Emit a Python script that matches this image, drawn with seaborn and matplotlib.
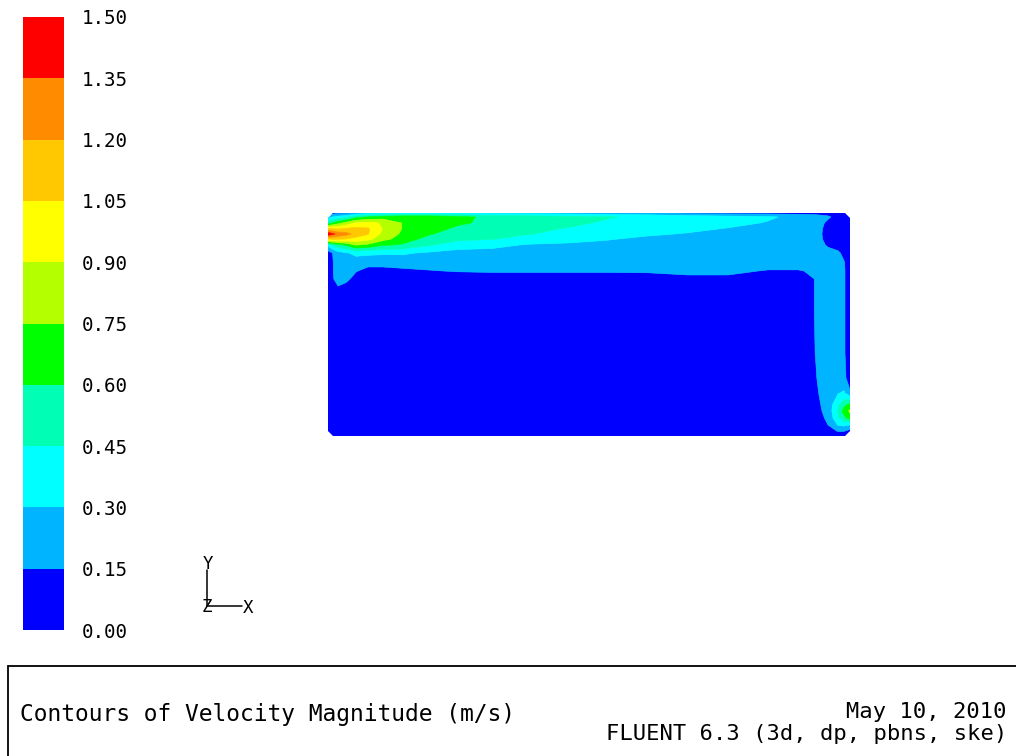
import numpy as np
import matplotlib
matplotlib.use("Agg")
import matplotlib.pyplot as plt
from matplotlib.colors import ListedColormap
from matplotlib.patches import Polygon, Rectangle
from matplotlib.lines import Line2D
import seaborn as sns

# Contour band edges (m/s) and their fill colours, low to high
levels = [0.00, 0.15, 0.30, 0.45, 0.60, 0.75, 0.90, 1.05, 1.20, 1.35, 1.50]
level_labels = [f"{v:.2f}" for v in levels]
band_colors = ["#0000ff", "#00b4ff", "#00ffff", "#00ffb4", "#00ff00",
               "#b4ff00", "#ffff00", "#ffc800", "#ff8c00", "#ff0000"]

# Section through the room (metres)
room_length = 5.22
room_height = 2.23

# Sampling stations along the room and depths below the ceiling
x_stations = [0.00, 0.04, 0.10, 0.18, 0.28, 0.40, 0.55, 0.75, 1.00, 1.30, 1.65, 2.00,
              2.40, 2.80, 3.20, 3.60, 4.00, 4.40, 4.70, 4.88, 5.00, 5.10, 5.16, 5.22]
depth_below_ceiling = [0.00, 0.04, 0.10, 0.16, 0.21, 0.26, 0.32, 0.40, 0.50, 0.58, 0.66,
                       0.76, 1.00, 1.40, 1.65, 1.80, 1.92, 1.98, 2.05, 2.12, 2.18, 2.23]

# Velocity magnitude (m/s): one vertical profile per station, ceiling to floor
speed_profiles = [
    [0.10, 0.25, 0.50, 1.10, 1.46, 1.05, 0.35, 0.08, 0.05, 0.05, 0.05, 0.05, 0.05, 0.05, 0.05, 0.05, 0.05, 0.05, 0.05, 0.05, 0.05, 0.05],
    [0.10, 0.30, 0.60, 1.08, 1.40, 1.08, 0.45, 0.14, 0.13, 0.13, 0.12, 0.07, 0.05, 0.05, 0.05, 0.05, 0.05, 0.05, 0.05, 0.05, 0.05, 0.05],
    [0.12, 0.35, 0.70, 1.05, 1.30, 1.08, 0.55, 0.25, 0.22, 0.22, 0.22, 0.12, 0.05, 0.05, 0.05, 0.05, 0.05, 0.05, 0.05, 0.05, 0.05, 0.05],
    [0.12, 0.40, 0.80, 1.08, 1.26, 1.05, 0.62, 0.28, 0.22, 0.20, 0.19, 0.08, 0.05, 0.05, 0.05, 0.05, 0.05, 0.05, 0.05, 0.05, 0.05, 0.05],
    [0.20, 0.55, 0.92, 1.10, 1.14, 1.00, 0.76, 0.35, 0.20, 0.16, 0.09, 0.06, 0.05, 0.05, 0.05, 0.05, 0.05, 0.05, 0.05, 0.05, 0.05, 0.05],
    [0.25, 0.62, 0.95, 1.07, 1.06, 0.95, 0.72, 0.33, 0.20, 0.10, 0.06, 0.05, 0.05, 0.05, 0.05, 0.05, 0.05, 0.05, 0.05, 0.05, 0.05, 0.05],
    [0.28, 0.68, 0.88, 0.89, 0.86, 0.80, 0.62, 0.32, 0.20, 0.10, 0.06, 0.05, 0.05, 0.05, 0.05, 0.05, 0.05, 0.05, 0.05, 0.05, 0.05, 0.05],
    [0.30, 0.72, 0.74, 0.74, 0.72, 0.68, 0.58, 0.32, 0.21, 0.12, 0.06, 0.05, 0.05, 0.05, 0.05, 0.05, 0.05, 0.05, 0.05, 0.05, 0.05, 0.05],
    [0.30, 0.72, 0.72, 0.68, 0.62, 0.55, 0.47, 0.28, 0.22, 0.14, 0.06, 0.05, 0.05, 0.05, 0.05, 0.05, 0.05, 0.05, 0.05, 0.05, 0.05, 0.05],
    [0.30, 0.65, 0.63, 0.56, 0.52, 0.48, 0.38, 0.24, 0.21, 0.16, 0.06, 0.05, 0.05, 0.05, 0.05, 0.05, 0.05, 0.05, 0.05, 0.05, 0.05, 0.05],
    [0.28, 0.55, 0.55, 0.52, 0.49, 0.46, 0.33, 0.26, 0.22, 0.17, 0.06, 0.05, 0.05, 0.05, 0.05, 0.05, 0.05, 0.05, 0.05, 0.05, 0.05, 0.05],
    [0.26, 0.53, 0.51, 0.48, 0.46, 0.37, 0.29, 0.25, 0.22, 0.17, 0.06, 0.05, 0.05, 0.05, 0.05, 0.05, 0.05, 0.05, 0.05, 0.05, 0.05, 0.05],
    [0.24, 0.50, 0.48, 0.44, 0.40, 0.34, 0.28, 0.24, 0.22, 0.17, 0.06, 0.05, 0.05, 0.05, 0.05, 0.05, 0.05, 0.05, 0.05, 0.05, 0.05, 0.05],
    [0.22, 0.46, 0.43, 0.39, 0.35, 0.31, 0.26, 0.23, 0.21, 0.17, 0.06, 0.05, 0.05, 0.05, 0.05, 0.05, 0.05, 0.05, 0.05, 0.05, 0.05, 0.05],
    [0.20, 0.42, 0.40, 0.36, 0.32, 0.27, 0.24, 0.22, 0.21, 0.17, 0.08, 0.05, 0.05, 0.05, 0.05, 0.05, 0.05, 0.05, 0.05, 0.05, 0.05, 0.05],
    [0.12, 0.40, 0.38, 0.33, 0.29, 0.25, 0.23, 0.22, 0.21, 0.18, 0.12, 0.05, 0.05, 0.05, 0.05, 0.05, 0.05, 0.05, 0.05, 0.05, 0.05, 0.05],
    [0.10, 0.36, 0.34, 0.29, 0.27, 0.25, 0.23, 0.22, 0.21, 0.18, 0.12, 0.05, 0.05, 0.05, 0.05, 0.05, 0.05, 0.05, 0.05, 0.05, 0.05, 0.05],
    [0.10, 0.32, 0.29, 0.27, 0.25, 0.24, 0.23, 0.22, 0.21, 0.14, 0.06, 0.05, 0.05, 0.05, 0.05, 0.05, 0.05, 0.05, 0.05, 0.05, 0.05, 0.05],
    [0.10, 0.26, 0.25, 0.24, 0.24, 0.23, 0.23, 0.22, 0.21, 0.14, 0.05, 0.05, 0.05, 0.05, 0.05, 0.05, 0.05, 0.05, 0.05, 0.05, 0.05, 0.05],
    [0.10, 0.22, 0.22, 0.22, 0.22, 0.22, 0.22, 0.21, 0.20, 0.17, 0.16, 0.16, 0.16, 0.155, 0.145, 0.13, 0.11, 0.10, 0.08, 0.07, 0.05, 0.04],
    [0.10, 0.17, 0.12, 0.09, 0.08, 0.09, 0.13, 0.20, 0.22, 0.22, 0.22, 0.22, 0.22, 0.22, 0.22, 0.22, 0.21, 0.20, 0.18, 0.15, 0.09, 0.05],
    [0.08, 0.10, 0.08, 0.07, 0.07, 0.08, 0.10, 0.17, 0.21, 0.22, 0.22, 0.22, 0.22, 0.22, 0.23, 0.29, 0.42, 0.46, 0.42, 0.31, 0.16, 0.06],
    [0.06, 0.07, 0.06, 0.06, 0.06, 0.06, 0.08, 0.12, 0.16, 0.17, 0.17, 0.17, 0.17, 0.17, 0.20, 0.32, 0.56, 0.66, 0.56, 0.33, 0.16, 0.06],
    [0.04, 0.05, 0.05, 0.05, 0.05, 0.05, 0.05, 0.05, 0.05, 0.05, 0.05, 0.05, 0.05, 0.05, 0.05, 0.18, 0.66, 0.78, 0.67, 0.30, 0.10, 0.04],
]

caption = "Contours of Velocity Magnitude (m/s)"
run_date = "May 10, 2010"
solver_info = "FLUENT 6.3 (3d, dp, pbns, ske)"

sns.set_theme(style="white")
plt.rcParams["font.family"] = ["DejaVu Sans Mono", "DejaVu Sans"]

W, H = 1016, 756
fig = plt.figure(figsize=(W / 100, H / 100), dpi=100)
fig.patch.set_facecolor("white")

def fx(px):
    return px / W

def fy(py):
    return (H - py) / H

palette = sns.color_palette(band_colors)

# Field grid: heights measured upward from the floor
x = np.array(x_stations)
y = room_height - np.array(depth_below_ceiling)
speed = np.array(speed_profiles).T
y = y[::-1]
speed = speed[::-1, :]

ax = fig.add_axes([fx(328), fy(436), fx(850) - fx(328), fy(213) - fy(436)])
cs = ax.contourf(x, y, speed, levels=levels, colors=palette, antialiased=True)
cs.set_edgecolor("face")
cs.set_linewidth(0.4)

# Room outline with small chamfered corners
c = 0.05
outline = Polygon([(c, 0), (room_length - c, 0), (room_length, c),
                   (room_length, room_height - c), (room_length - c, room_height),
                   (c, room_height), (0, room_height - c), (0, c)],
                  closed=True, transform=ax.transData, facecolor="none", edgecolor="none")
ax.add_patch(outline)
cs.set_clip_path(outline)

ax.set_xlim(0, room_length)
ax.set_ylim(0, room_height)
ax.set_axis_off()

# Colour scale
cax = fig.add_axes([fx(23), fy(630), fx(64) - fx(23), fy(17) - fy(630)])
cb = fig.colorbar(cs, cax=cax, ticks=levels)
cb.outline.set_visible(False)
cb.ax.set_yticklabels(level_labels)
cb.ax.tick_params(axis="y", length=0, pad=13, labelsize=13.8, labelcolor="black")
for lab in cb.ax.get_yticklabels():
    lab.set_family(["DejaVu Sans Mono", "DejaVu Sans"])

# Axis triad
fig.add_artist(Line2D([fx(207), fx(207)], [fy(606), fy(570)], transform=fig.transFigure,
                      color="black", lw=1.1))
fig.add_artist(Line2D([fx(207), fx(242)], [fy(606), fy(606)], transform=fig.transFigure,
                      color="black", lw=1.1))
fig.text(fx(208), fy(564), "Y", ha="center", va="center", fontsize=12.5, color="black")
fig.text(fx(248), fy(608), "X", ha="center", va="center", fontsize=12.5, color="black")
fig.text(fx(207), fy(607), "Z", ha="center", va="center", fontsize=12.5, color="black")

# Caption panel
fig.add_artist(Rectangle((fx(8), -0.02), 1.1, fy(666) + 0.02, transform=fig.transFigure,
                         fill=False, edgecolor="black", lw=1.3))
fig.text(fx(20), fy(714), caption, ha="left", va="center", fontsize=16.5, color="black")
fig.text(fx(1007), fy(712), run_date, ha="right", va="center", fontsize=15.9, color="black")
fig.text(fx(1007), fy(734), solver_info, ha="right", va="center", fontsize=15.9, color="black")

fig.savefig("out.png", dpi=100, facecolor="white")
